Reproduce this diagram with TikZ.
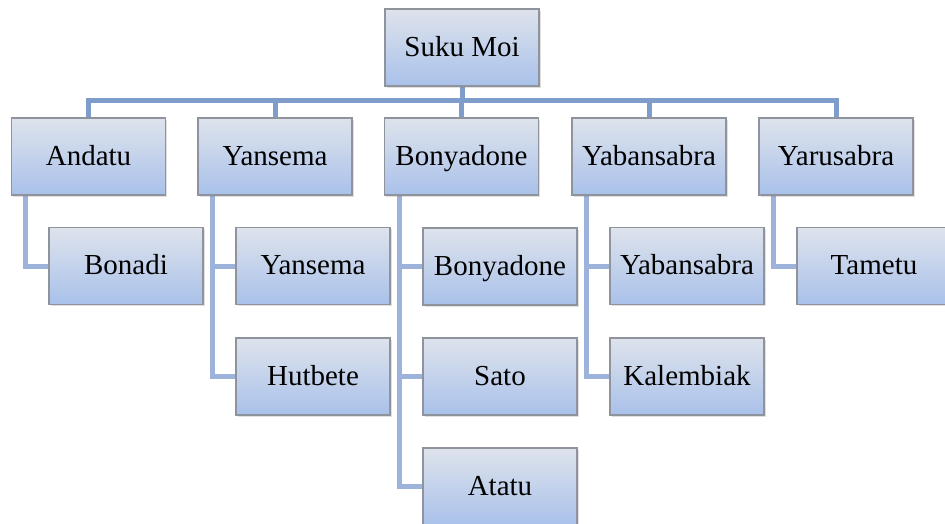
\documentclass[tikz,border=0pt]{standalone}
\usepackage{fontspec}
\setmainfont{Liberation Serif}
\usetikzlibrary{shadows,backgrounds,calc}
\definecolor{boxtop}{HTML}{DEE3EC}
\definecolor{boxbot}{HTML}{A9C1EA}
\definecolor{boxedge}{HTML}{8E939C}
\definecolor{connA}{HTML}{7E9DCB}
\definecolor{connB}{HTML}{9DB3DB}
\tikzset{
  orgbox/.style={draw=boxedge, line width=1.2pt, top color=boxtop, bottom color=boxbot,
    minimum width=154pt, minimum height=77pt, inner sep=0pt,
    text height=20pt, text depth=3pt,
    font=\fontsize{29}{32}\selectfont,
    drop shadow={shadow xshift=1.5pt, shadow yshift=-1.5pt, opacity=0.2, fill=black!60}},
  connmain/.style={draw=connA, line width=5pt},
  connsub/.style={draw=connB, line width=5pt},
}
\begin{document}
\begin{tikzpicture}[x=1pt,y=-1pt]
\useasboundingbox (0,0) rectangle (945,523);
\node[orgbox] (top) at (462,47.5) {Suku Moi};
\node[orgbox] (a) at (88.5,156.5) {Andatu};
\node[orgbox] (b) at (275,156.5) {Yansema};
\node[orgbox] (c) at (461.5,156.5) {Bonyadone};
\node[orgbox] (d) at (649,156.5) {Yabansabra};
\node[orgbox] (e) at (836,156.5) {Yarusabra};
\node[orgbox] (a1) at (126,266) {Bonadi};
\node[orgbox] (b1) at (313,266) {Yansema};
\node[orgbox] (b2) at (313,376.5) {Hutbete};
\node[orgbox] (c1) at (500,266.5) {Bonyadone};
\node[orgbox] (c2) at (500,376.5) {Sato};
\node[orgbox] (c3) at (500,486.5) {Atatu};
\node[orgbox] (d1) at (687,266) {Yabansabra};
\node[orgbox] (d2) at (687,376.5) {Kalembiak};
\node[orgbox] (e1) at (874,266) {Tametu};
\coordinate (bar) at (462,100);
\coordinate (as) at ([xshift=15pt]a.south west);
\coordinate (bs) at ([xshift=15pt]b.south west);
\coordinate (cs) at ([xshift=15.5pt]c.south west);
\coordinate (ds) at ([xshift=15.5pt]d.south west);
\coordinate (es) at ([xshift=15.5pt]e.south west);
\begin{scope}[on background layer]
\draw[connmain] (top.south) -- (bar) -| (a.north);
\draw[connmain] (bar) -| (b.north);
\draw[connmain] (bar) -| (c.north);
\draw[connmain] (bar) -| (d.north);
\draw[connmain] (bar) -| (e.north);
\draw[connsub] (as) |- (a1.west);
\draw[connsub] (bs) |- (b1.west);
\draw[connsub] (bs) |- (b2.west);
\draw[connsub] (cs) |- (c1.west);
\draw[connsub] (cs) |- (c2.west);
\draw[connsub] (cs) |- (c3.west);
\draw[connsub] (ds) |- (d1.west);
\draw[connsub] (ds) |- (d2.west);
\draw[connsub] (es) |- (e1.west);
\end{scope}
\end{tikzpicture}
\end{document}
